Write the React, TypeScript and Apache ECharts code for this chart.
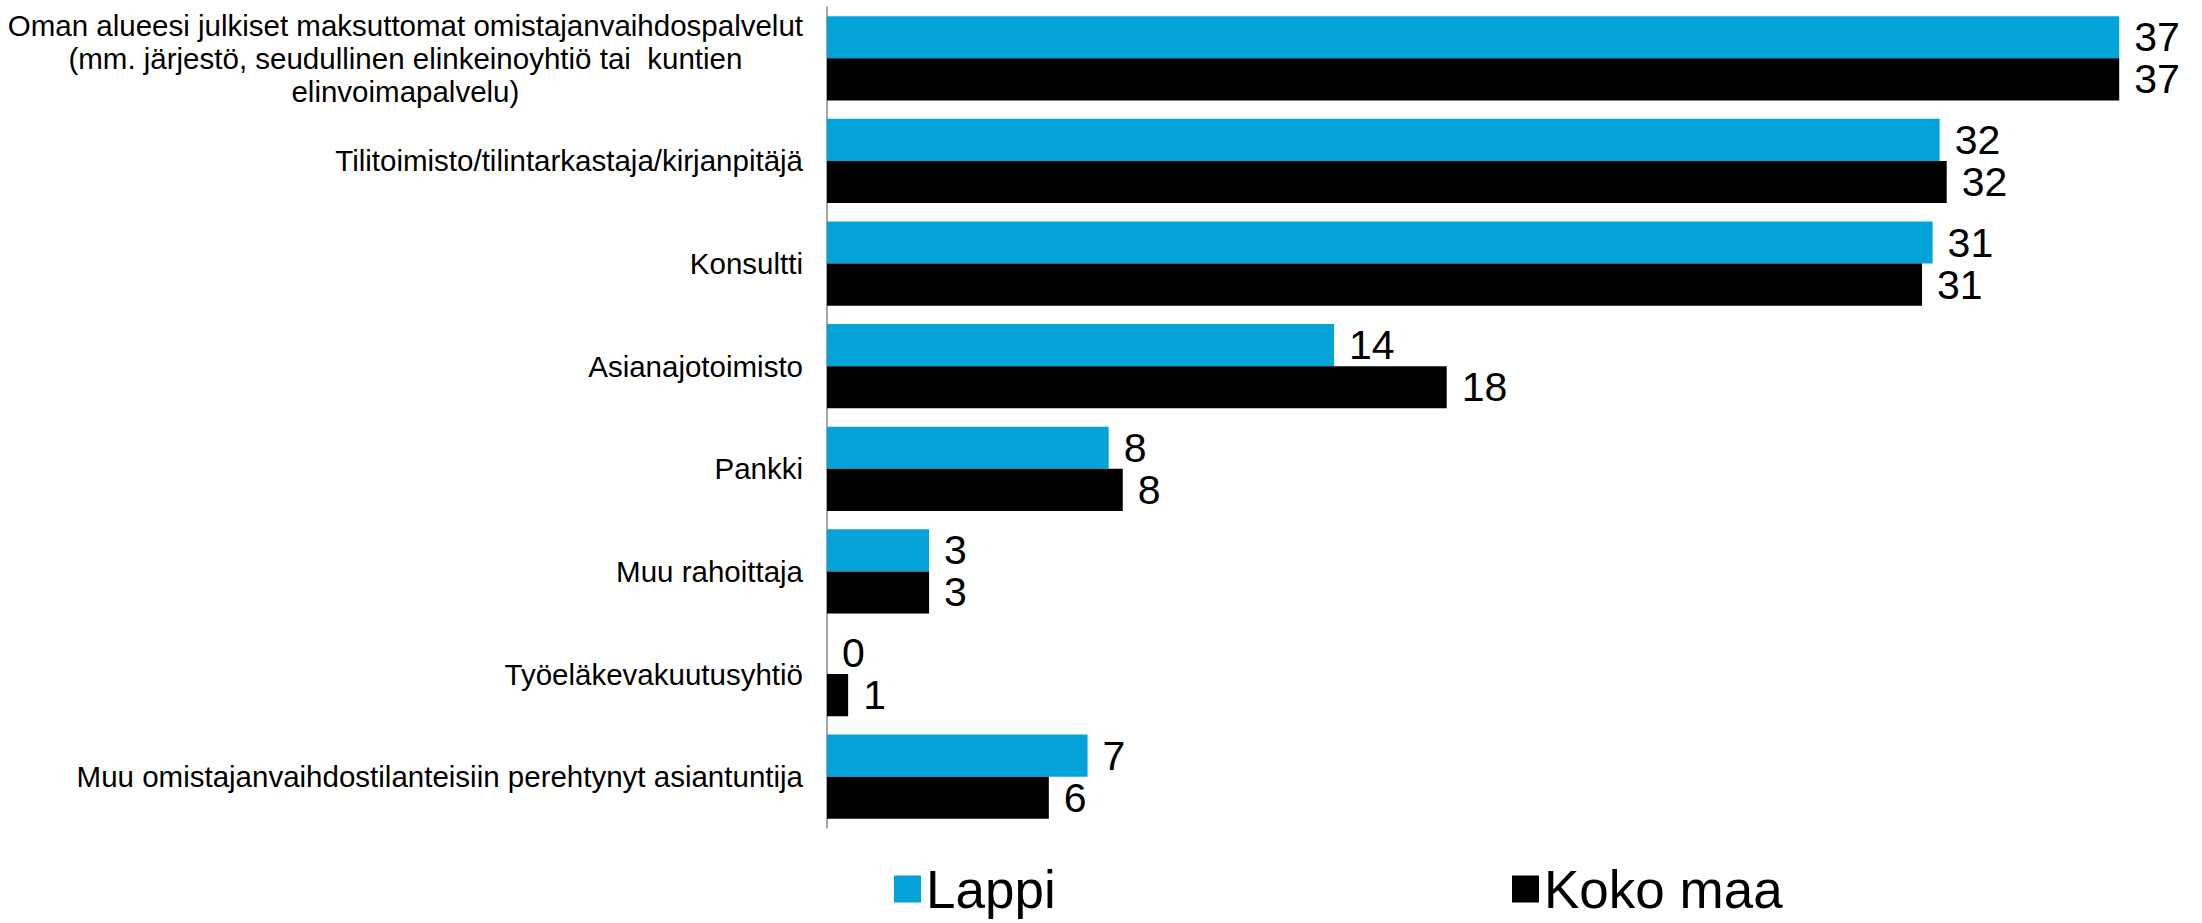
import React, { useEffect, useRef } from "react";
import * as echarts from "echarts";

const categories = [
  "Oman alueesi julkiset maksuttomat omistajanvaihdospalvelut\n(mm. järjestö, seudullinen elinkeinoyhtiö tai  kuntien\nelinvoimapalvelu)",
  "Tilitoimisto/tilintarkastaja/kirjanpitäjä",
  "Konsultti",
  "Asianajotoimisto",
  "Pankki",
  "Muu rahoittaja",
  "Työeläkevakuutusyhtiö",
  "Muu omistajanvaihdostilanteisiin perehtynyt asiantuntija",
];
const lappi = [36.7, 31.6, 31.4, 14.4, 8.0, 2.9, 0, 7.4];
const kokoMaa = [36.7, 31.8, 31.1, 17.6, 8.4, 2.9, 0.6, 6.3];
const seriesNames = ["Lappi", "Koko maa"];

const FONT = "'Liberation Sans', Arial, sans-serif";

export default function App() {
  const ref = useRef<HTMLDivElement>(null);
  useEffect(() => {
    document.body.style.margin = "0";
    const chart = echarts.init(ref.current!, null, { renderer: "svg" });
    const label = {
      show: true,
      position: "right",
      distance: 15,
      fontSize: 41,
      lineHeight: 38,
      fontFamily: FONT,
      color: "#000",
      formatter: (p: any) => String(Math.round(p.value)),
    };
    const legendText = { fontSize: 53, fontFamily: FONT, color: "#000", lineHeight: 56 };
    chart.setOption({
      animation: false,
      backgroundColor: "#fff",
      grid: { left: 827, right: 37, top: 7, bottom: 95, containLabel: false },
      xAxis: {
        type: "value",
        min: 0,
        max: 38,
        show: false,
        splitLine: { show: false },
      },
      yAxis: {
        type: "category",
        inverse: true,
        data: categories,
        axisLine: { show: true, lineStyle: { color: "#898989", width: 1.5 } },
        axisTick: { show: false },
        axisLabel: {
          margin: 24,
          fontSize: 29.5,
          fontFamily: FONT,
          color: "#000",
          lineHeight: 33,
          formatter: (v: string) =>
            v
              .split("\n")
              .map((s) => "{c|" + s + "}")
              .join("\n"),
          rich: {
            c: { align: "center", fontSize: 29.5, fontFamily: FONT, color: "#000", lineHeight: 33 },
          },
        },
      },
      legend: [
        {
          data: [seriesNames[0]],
          left: 889,
          top: 856,
          itemWidth: 27,
          itemHeight: 27,
          icon: "rect",
          textStyle: legendText,
        },
        {
          data: [seriesNames[1]],
          left: 1507,
          top: 856,
          itemWidth: 27,
          itemHeight: 27,
          icon: "rect",
          textStyle: legendText,
        },
      ],
      series: [
        {
          name: seriesNames[0],
          type: "bar",
          data: lappi,
          barGap: "0%",
          barCategoryGap: "18%",
          itemStyle: { color: "#03A3DA" },
          label,
        },
        {
          name: seriesNames[1],
          type: "bar",
          data: kokoMaa,
          barGap: "0%",
          barCategoryGap: "18%",
          itemStyle: { color: "#000000" },
          label,
        },
      ],
    });
    return () => chart.dispose();
  }, []);
  return (
    <div
      ref={ref}
      style={{ position: "absolute", left: 0, top: 0, width: 2202, height: 923 }}
    />
  );
}
